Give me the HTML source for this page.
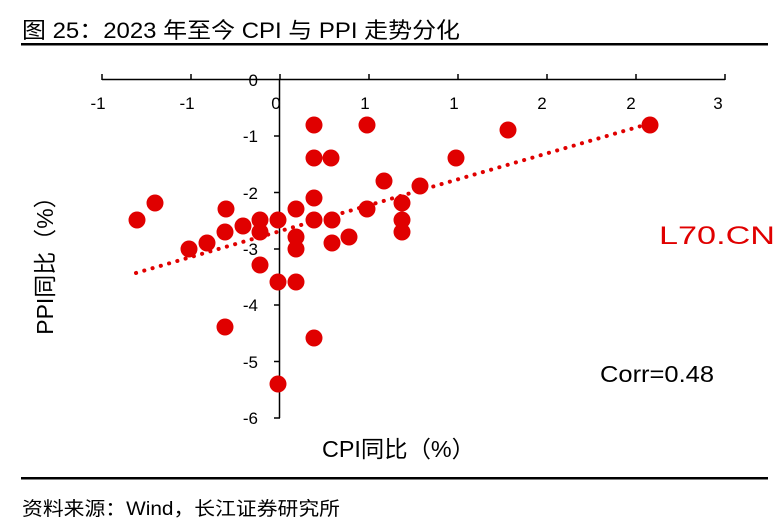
<!DOCTYPE html>
<html><head><meta charset="utf-8"><style>
body{margin:0;background:#fff;width:781px;height:530px;overflow:hidden}
svg{display:block}
text{font-family:"Liberation Sans","Noto Sans CJK SC",sans-serif}
</style></head><body>
<svg width="781" height="530" viewBox="0 0 781 530">
<text x="22" y="38" font-size="22" fill="#000" textLength="438" lengthAdjust="spacingAndGlyphs">图 25：2023 年至今 CPI 与 PPI 走势分化</text>
<rect x="21" y="43" width="747" height="2.5" fill="#000"/>
<line x1="102" y1="79.5" x2="725" y2="79.5" stroke="#000" stroke-width="1.5"/>
<g stroke="#000" stroke-width="1.5">
<line x1="102" y1="74" x2="102" y2="80"/><line x1="191" y1="74" x2="191" y2="80"/><line x1="280" y1="74" x2="280" y2="80"/><line x1="369" y1="74" x2="369" y2="80"/><line x1="458" y1="74" x2="458" y2="80"/><line x1="547" y1="74" x2="547" y2="80"/><line x1="636" y1="74" x2="636" y2="80"/><line x1="725" y1="74" x2="725" y2="80"/>
</g>
<g font-size="17" text-anchor="middle" fill="#000">
<text x="98" y="109">-1</text><text x="187" y="109">-1</text><text x="276" y="109">0</text><text x="365" y="109">1</text><text x="454" y="109">1</text><text x="542" y="109">2</text><text x="631" y="109">2</text><text x="718" y="109">3</text>
</g>
<line x1="279.5" y1="79" x2="279.5" y2="418" stroke="#000" stroke-width="1.5"/>
<g stroke="#000" stroke-width="1.5">
<line x1="274" y1="136" x2="280" y2="136"/><line x1="274" y1="192.5" x2="280" y2="192.5"/><line x1="274" y1="249" x2="280" y2="249"/><line x1="274" y1="305" x2="280" y2="305"/><line x1="274" y1="361.5" x2="280" y2="361.5"/><line x1="274" y1="418" x2="280" y2="418"/>
</g>
<g font-size="17" text-anchor="end" fill="#000">
<text x="258" y="86">0</text><text x="258" y="142">-1</text><text x="258" y="199">-2</text><text x="258" y="255">-3</text><text x="258" y="311">-4</text><text x="258" y="368">-5</text><text x="258" y="424">-6</text>
</g>
<line x1="136" y1="273" x2="648" y2="124" stroke="#e00000" stroke-width="4" stroke-dasharray="0.1 8.5" stroke-linecap="round"/>
<g fill="#e00000">
<circle cx="137" cy="220" r="8.5"/><circle cx="155" cy="203" r="8.5"/><circle cx="226" cy="209" r="8.5"/><circle cx="225" cy="232" r="8.5"/><circle cx="189" cy="249" r="8.5"/><circle cx="207" cy="243" r="8.5"/><circle cx="243" cy="226" r="8.5"/><circle cx="260" cy="220" r="8.5"/><circle cx="260" cy="232" r="8.5"/><circle cx="278" cy="220" r="8.5"/><circle cx="296" cy="209" r="8.5"/><circle cx="296" cy="237" r="8.5"/><circle cx="296" cy="249" r="8.5"/><circle cx="314" cy="198" r="8.5"/><circle cx="314" cy="220" r="8.5"/><circle cx="332" cy="220" r="8.5"/><circle cx="332" cy="243" r="8.5"/><circle cx="349" cy="237" r="8.5"/><circle cx="367" cy="209" r="8.5"/><circle cx="384" cy="181" r="8.5"/><circle cx="402" cy="203" r="8.5"/><circle cx="402" cy="220" r="8.5"/><circle cx="402" cy="232" r="8.5"/><circle cx="420" cy="186" r="8.5"/><circle cx="260" cy="265" r="8.5"/><circle cx="278" cy="282" r="8.5"/><circle cx="296" cy="282" r="8.5"/><circle cx="225" cy="327" r="8.5"/><circle cx="314" cy="338" r="8.5"/><circle cx="278" cy="384" r="8.5"/>
<circle cx="314" cy="125" r="8.5"/><circle cx="367" cy="125" r="8.5"/><circle cx="508" cy="130" r="8.5"/><circle cx="650" cy="125" r="8.5"/><circle cx="314" cy="158" r="8.5"/><circle cx="331" cy="158" r="8.5"/><circle cx="456" cy="158" r="8.5"/>
</g>
<text x="659" y="244" font-size="25" fill="#e00000" textLength="116" lengthAdjust="spacingAndGlyphs">L70.CN</text>
<text x="600" y="382" font-size="23" fill="#000" textLength="114" lengthAdjust="spacingAndGlyphs">Corr=0.48</text>
<text x="322" y="457" font-size="23" fill="#000" textLength="153" lengthAdjust="spacingAndGlyphs">CPI同比（%）</text>
<text transform="translate(53,260) rotate(-90)" font-size="23" text-anchor="middle" fill="#000">PPI同比（%）</text>
<rect x="21" y="477" width="747" height="2.5" fill="#000"/>
<text x="22" y="515" font-size="19" fill="#000" textLength="318" lengthAdjust="spacingAndGlyphs">资料来源：Wind，长江证券研究所</text>
</svg>
</body></html>
